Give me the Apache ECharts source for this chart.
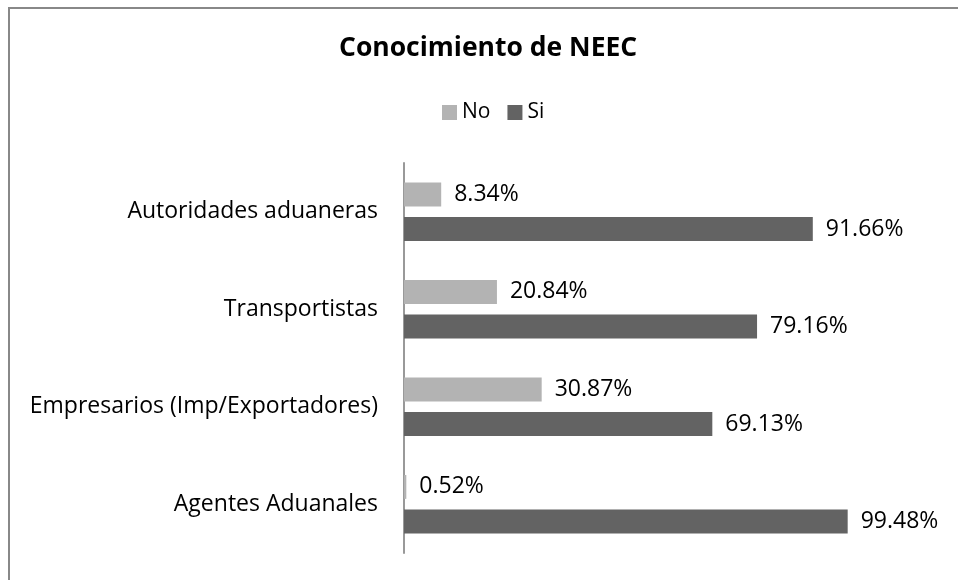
<!DOCTYPE html>
<html>
<head>
<meta charset="utf-8">
<script src="https://cdn.jsdelivr.net/npm/echarts@6/dist/echarts.min.js"></script>
<style>
  html, body { margin: 0; padding: 0; background: #fff; }
  #chart { width: 958px; height: 580px; }
</style>
</head>
<body>
<div id="chart"></div>
<script>
  // datos (de abajo hacia arriba, como en Excel)
  var categorias = ['Agentes Aduanales', 'Empresarios (Imp/Exportadores)', 'Transportistas', 'Autoridades aduaneras'];
  var valoresNo = [0.52, 30.87, 20.84, 8.34];
  var valoresSi = [99.48, 69.13, 79.16, 91.66];

  var fuente = '"Open Sans", Lato, sans-serif';
  var myChart = echarts.init(document.getElementById('chart'));

  myChart.setOption({
    animation: false,
    title: {
      text: 'Conocimiento de NEEC',
      left: 334,
      top: 30,
      textStyle: { fontFamily: fuente, fontSize: 26.5, fontWeight: 'bold', color: '#000' }
    },
    legend: {
      data: ['No', 'Si'],
      top: 97,
      left: 437,
      itemWidth: 15,
      itemHeight: 15,
      itemGap: 17,
      icon: 'rect',
      textStyle: { fontFamily: fuente, fontSize: 21, color: '#000' }
    },
    graphic: [{
      type: 'rect',
      shape: { x: 9, y: 8, width: 1000, height: 1000 },
      style: { fill: 'none', stroke: '#888', lineWidth: 2 },
      silent: true
    }],
    grid: { left: 404, right: 108, top: 163, bottom: 27 },
    xAxis: {
      type: 'value',
      min: 0,
      max: 100,
      show: false
    },
    yAxis: {
      type: 'category',
      data: categorias,
      axisLine: { lineStyle: { color: '#999', width: 2 } },
      axisTick: { show: false },
      axisLabel: { fontFamily: fuente, fontSize: 23, color: '#000', margin: 26 }
    },
    series: [
      {
        name: 'No',
        type: 'bar',
        data: valoresNo,
        itemStyle: { color: '#b3b3b3' },
        barGap: '45%',
        barCategoryGap: '40%',
        label: {
          show: true, position: 'right', distance: 13,
          fontFamily: fuente, fontSize: 23, color: '#000',
          formatter: function (p) { return p.value.toFixed(2) + '%'; }
        }
      },
      {
        name: 'Si',
        type: 'bar',
        data: valoresSi,
        itemStyle: { color: '#636363' },
        label: {
          show: true, position: 'right', distance: 13,
          fontFamily: fuente, fontSize: 23, color: '#000',
          formatter: function (p) { return p.value.toFixed(2) + '%'; }
        }
      }
    ]
  });
</script>
</body>
</html>
